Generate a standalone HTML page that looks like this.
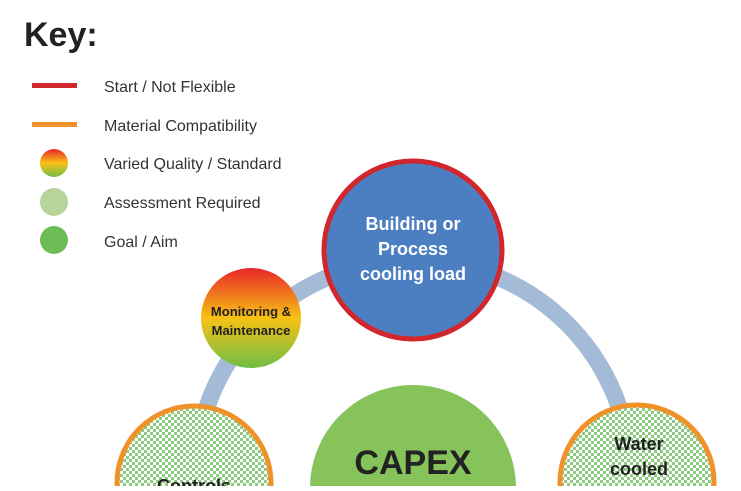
<!DOCTYPE html>
<html><head><style>
body{margin:0;background:#fff;width:741px;height:486px;overflow:hidden;font-family:"Liberation Sans",sans-serif;}
</style></head><body>
<svg width="741" height="486" viewBox="0 0 741 486" xmlns="http://www.w3.org/2000/svg">
<defs>
<pattern id="chk" width="6" height="6" patternUnits="userSpaceOnUse">
<rect width="6" height="6" fill="#fff"/>
<rect width="3" height="3" fill="#8dcb80"/><rect x="3" y="3" width="3" height="3" fill="#8dcb80"/>
</pattern>
<linearGradient id="grad" x1="0" y1="0" x2="0" y2="1">
<stop offset="0" stop-color="#e8262a"/><stop offset="0.5" stop-color="#f8c215"/><stop offset="1" stop-color="#6fbe45"/>
</linearGradient>
</defs>
<text x="24" y="46" font-size="34" font-weight="bold" fill="#222">Key:</text>
<rect x="32" y="83" width="45" height="5" fill="#d1262b"/>
<rect x="32" y="122" width="45" height="5" fill="#f3912c"/>
<circle cx="54" cy="163" r="14" fill="url(#grad)"/>
<circle cx="54" cy="202" r="14" fill="#b7d49a"/>
<circle cx="54" cy="240" r="14" fill="#6cbd57"/>
<g font-size="16" fill="#333">
<text x="104" y="92">Start / Not Flexible</text>
<text x="104" y="131">Material Compatibility</text>
<text x="104" y="169">Varied Quality / Standard</text>
<text x="104" y="208">Assessment Required</text>
<text x="104" y="247">Goal / Aim</text>
</g>
<circle cx="413" cy="478" r="218" fill="none" stroke="#a4bbd7" stroke-width="17"/>
<circle cx="413" cy="488" r="103" fill="#86c35a"/>
<text x="413" y="474" font-size="34" font-weight="bold" fill="#222" text-anchor="middle">CAPEX</text>
<circle cx="413" cy="250" r="89" fill="#4b7fc1" stroke="#d1262b" stroke-width="5"/>
<g font-size="18" font-weight="bold" fill="#fff" text-anchor="middle">
<text x="413" y="230">Building or</text>
<text x="413" y="255">Process</text>
<text x="413" y="280">cooling load</text>
</g>
<circle cx="251" cy="318" r="50" fill="url(#grad)"/>
<g font-size="13" font-weight="bold" fill="#222" text-anchor="middle">
<text x="251" y="316">Monitoring &amp;</text>
<text x="251" y="335">Maintenance</text>
</g>
<circle cx="194" cy="483" r="77" fill="url(#chk)" stroke="#f0922a" stroke-width="5"/>
<text x="194" y="492" font-size="18" font-weight="bold" fill="#222" text-anchor="middle">Controls</text>
<circle cx="637" cy="482" r="77" fill="url(#chk)" stroke="#f0922a" stroke-width="5"/>
<g font-size="18" font-weight="bold" fill="#222" text-anchor="middle">
<text x="639" y="450">Water</text>
<text x="639" y="475">cooled</text>
</g>
</svg>
</body></html>
